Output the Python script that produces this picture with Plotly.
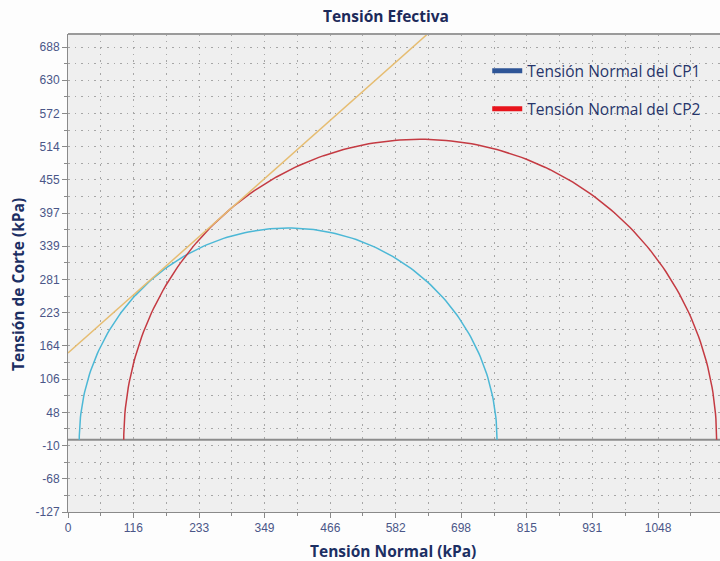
import numpy as np
import plotly.graph_objects as go

# --- data ---
cp_names = ["Tensión Normal del CP1", "Tensión Normal del CP2"]
sigma3 = [20, 99]          # kPa, minor principal stress
sigma1 = [762, 1152]       # kPa, major principal stress
line_colors = ["#4cb8d6", "#c43a42"]
legend_colors = ["#2e5597", "#e8141c"]

cohesion = 152             # kPa, envelope intercept
phi_deg = 41.2             # friction angle

x_ticks = [0, 116, 233, 349, 466, 582, 698, 815, 931, 1048]
y_tick_vals = [-126.6, -68.4, -10.2, 48.0, 106.2, 164.4, 222.6, 280.8, 339.0,
               397.2, 455.4, 513.6, 571.8, 630.0, 688.2]
y_tick_text = ["-127", "-68", "-10", "48", "106", "164", "223", "281", "339",
               "397", "455", "514", "572", "630", "688"]

fig = go.Figure()

theta = np.linspace(0, np.pi, 181)
for name, s3, s1, c in zip(cp_names, sigma3, sigma1, line_colors):
    center = (s1 + s3) / 2
    r = (s1 - s3) / 2
    fig.add_trace(go.Scatter(x=center + r * np.cos(theta), y=r * np.sin(theta),
                             mode="lines", line=dict(color=c, width=1.5),
                             showlegend=False, hoverinfo="skip"))

# envelope
env_x = np.array([0, 900])
env_y = cohesion + np.tan(np.radians(phi_deg)) * env_x
fig.add_trace(go.Scatter(x=env_x, y=env_y, mode="lines",
                         line=dict(color="#e6bd72", width=1.5),
                         showlegend=False, hoverinfo="skip"))

# legend entries
for i, (name, c) in enumerate(zip(cp_names, legend_colors)):
    fig.add_trace(go.Scatter(x=[None], y=[None], mode="lines", name=name,
                             line=dict(color=c, width=5), legendgroup=f"g{i}"))

tick_font = dict(family="Liberation Sans, Arial", size=12, color="#4a5688")
title_font = dict(family="Open Sans", size=15.5, color="#1c2f63")
grid = "#a6a6a6"
gdash = "1.5px,5px"

fig.update_layout(
    width=720, height=561,
    margin=dict(l=68, r=0, t=34, b=49),
    paper_bgcolor="#fdfdfd",
    plot_bgcolor="#efefef",
    title=dict(text="<b>Tensión Efectiva</b>", x=0.536, xanchor="center", xref="container",
               y=1 - 17 / 561, yref="container", yanchor="middle",
               font=dict(family="Open Sans", size=15.5, color="#1c2a5a")),
    legend=dict(x=0.643, y=0.958, xanchor="left", yanchor="top",
                bgcolor="rgba(0,0,0,0)", font=dict(family="Open Sans", size=15.5, color="#27356a"),
                tracegroupgap=15, itemwidth=30),
    showlegend=True,
)

fig.update_xaxes(
    range=[0, 1158], tickvals=x_ticks, ticktext=[str(v) for v in x_ticks],
    tickfont=tick_font, ticks="outside", ticklen=5, tickcolor="#8a8a8a",
    showline=True, linecolor="#8a8a8a", linewidth=1, mirror=False,
    showgrid=True, gridcolor=grid, griddash=gdash, gridwidth=1,
    zeroline=False,
    minor=dict(tickvals=[58.2 + 116.4 * k for k in range(10)], ticks="outside",
               ticklen=3, tickcolor="#8a8a8a", showgrid=True, gridcolor=grid,
               griddash=gdash),
)
fig.update_yaxes(
    range=[-126.6, 711], tickvals=y_tick_vals, ticktext=y_tick_text,
    tickfont=tick_font, ticks="outside", ticklen=5, tickcolor="#8a8a8a",
    showline=True, linecolor="#8a8a8a", linewidth=1, mirror=False,
    showgrid=True, gridcolor=grid, griddash=gdash, gridwidth=1,
    zeroline=False,
    minor=dict(tickvals=[-126.6 + 29.1 + 58.2 * k for k in range(15)], ticks="outside",
               ticklen=3, tickcolor="#8a8a8a", showgrid=True, gridcolor=grid,
               griddash=gdash),
)

# zero line across the whole plot width
fig.add_shape(type="line", xref="paper", yref="y", x0=0, x1=1, y0=0, y1=0,
              line=dict(color="#8c8c8c", width=2), layer="below")

# axis titles as annotations for exact placement
fig.add_annotation(text="<b>Tensión Normal (kPa)</b>", xref="paper", yref="paper",
                   x=(393 - 68) / 652, y=-(551 - 512) / 478, xanchor="center", yanchor="middle",
                   showarrow=False, font=title_font)
fig.add_annotation(text="<b>Tensión de Corte (kPa)</b>", xref="paper", yref="paper",
                   x=-(68 - 18) / 652, y=(512 - 285) / 478, xanchor="center", yanchor="middle",
                   textangle=-90, showarrow=False, font=title_font)

# top border line
fig.add_shape(type="line", xref="paper", yref="paper", x0=0, x1=1, y0=1, y1=1,
              line=dict(color="#9a9a9a", width=2))

fig.write_html("out.html")
